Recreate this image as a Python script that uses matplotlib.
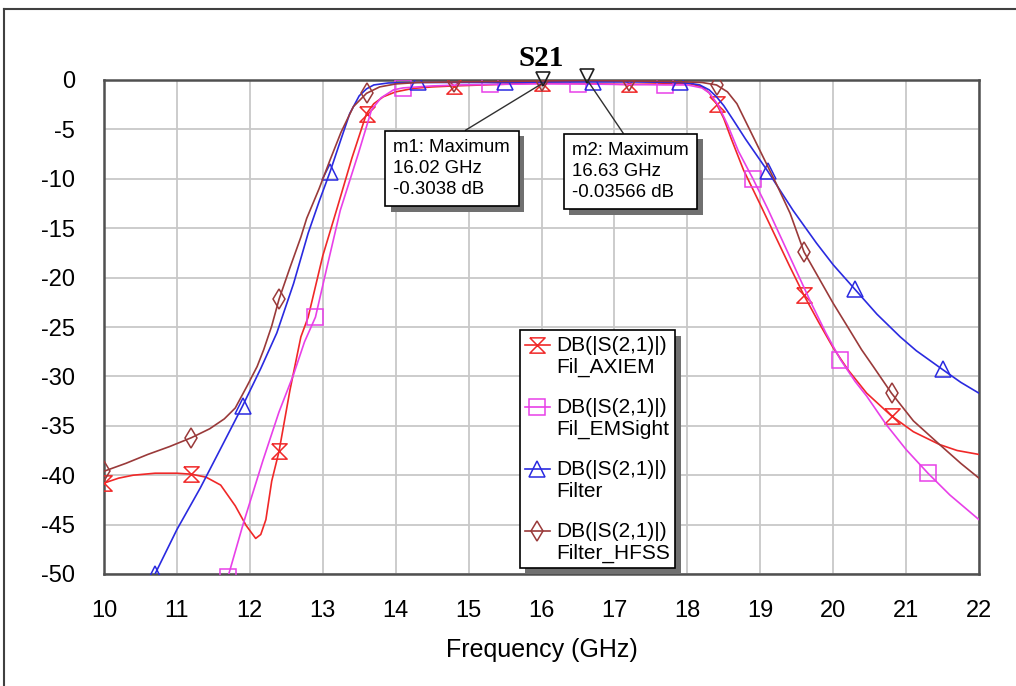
import numpy as np
import matplotlib
matplotlib.use("Agg")
import matplotlib.pyplot as plt
from matplotlib.lines import Line2D
from matplotlib import patheffects as pe
from matplotlib.legend_handler import HandlerLine2D

# ---------------- data ----------------
axiem_f = [10.0, 10.2, 10.4, 10.7, 11.0, 11.2, 11.4, 11.6, 11.8, 11.95, 12.08, 12.15, 12.22,
           12.3, 12.4, 12.55, 12.7, 12.8, 13.0, 13.2, 13.4, 13.6, 13.7, 13.83, 14.0, 14.24,
           14.5, 14.8, 15.2, 15.6, 16.0, 16.4, 16.8, 17.2, 17.6, 17.9, 18.05, 18.2, 18.3,
           18.4, 18.5, 18.6, 18.77, 19.0, 19.2, 19.4, 19.6, 19.8, 20.0, 20.2, 20.46, 20.8,
           21.1, 21.46, 21.7, 22.0]
axiem_db = [-40.8, -40.3, -40.0, -39.8, -39.8, -39.9, -40.2, -41.0, -43.1, -45.1, -46.4, -46.0, -44.5,
            -40.6, -37.6, -31.4, -26.0, -24.0, -17.8, -12.9, -7.9, -3.4, -2.4, -1.7, -1.2, -0.85,
            -0.7, -0.6, -0.5, -0.4, -0.3, -0.35, -0.4, -0.45, -0.4, -0.35, -0.4, -0.7, -1.3,
            -2.4, -3.9, -5.9, -9.1, -12.6, -15.7, -18.8, -21.8, -24.5, -27.1, -29.3, -31.7, -34.0,
            -35.6, -36.9, -37.5, -37.9]
axiem_mk = [10.0, 11.2, 12.4, 13.6, 14.8, 16.0, 17.2, 18.4, 19.6, 20.8]

ems_f = [11.6, 11.7, 11.91, 12.18, 12.4, 12.6, 12.75, 12.9, 13.05, 13.24, 13.49, 13.67, 13.8,
         13.97, 14.1, 14.5, 14.9, 15.3, 15.9, 16.5, 17.1, 17.7, 18.0, 18.2, 18.3, 18.42, 18.55,
         18.7, 18.9, 19.1, 19.3, 19.5, 19.7, 19.9, 20.1, 20.3, 20.46, 20.73, 21.0, 21.3, 21.6, 22.0]
ems_db = [-52.5, -50.3, -44.9, -38.5, -33.6, -29.8, -26.5, -24.0, -19.2, -13.2, -7.4, -3.0, -1.8,
          -1.0, -0.8, -0.6, -0.5, -0.45, -0.4, -0.4, -0.45, -0.5, -0.5, -0.8, -1.3, -2.5, -4.5,
          -7.2, -10.0, -13.0, -16.2, -19.4, -22.6, -25.6, -28.3, -30.5, -32.0, -34.9, -37.4, -39.8, -42.0, -44.5]
ems_mk = [11.7, 12.9, 14.1, 15.3, 16.5, 17.7, 18.9, 20.1, 21.3]

flt_f = [10.62, 10.7, 11.0, 11.32, 11.6, 11.9, 12.15, 12.37, 12.6, 12.8, 12.95, 13.1, 13.25,
         13.37, 13.5, 13.6, 13.7, 13.9, 14.3, 14.9, 15.5, 16.1, 16.7, 17.3, 17.9, 18.05, 18.17,
         18.3, 18.4, 18.5, 18.63, 18.8, 19.1, 19.45, 19.77, 20.0, 20.3, 20.6, 20.92, 21.14, 21.5,
         21.75, 22.0]
flt_db = [-51.5, -50.0, -45.5, -41.3, -37.3, -33.0, -29.2, -25.6, -20.6, -15.5, -12.3, -9.3, -6.0,
          -3.4, -1.6, -0.9, -0.5, -0.3, -0.25, -0.25, -0.25, -0.2, -0.2, -0.2, -0.25, -0.35, -0.5,
          -1.0, -1.7, -2.6, -4.05, -6.0, -9.2, -13.2, -16.5, -18.7, -21.2, -23.7, -26.0, -27.4, -29.3,
          -30.6, -31.7]
flt_mk = [10.7, 11.9, 13.1, 14.3, 15.5, 16.7, 17.9, 19.1, 20.3, 21.5]

hfss_f = [10.0, 10.3, 10.6, 10.9, 11.2, 11.45, 11.65, 11.8, 11.96, 12.1, 12.19, 12.3, 12.4,
          12.55, 12.7, 12.78, 12.95, 13.1, 13.25, 13.42, 13.6, 13.78, 14.0, 14.3, 14.8, 15.4,
          16.0, 16.63, 17.2, 17.8, 18.2, 18.4, 18.55, 18.68, 18.86, 19.04, 19.22, 19.41, 19.6,
          19.8, 20.0, 20.2, 20.39, 20.55, 20.8, 21.1, 21.46, 21.75, 22.0]
hfss_db = [-39.6, -38.8, -37.9, -37.1, -36.2, -35.3, -34.3, -33.2, -31.0, -29.0, -27.3, -24.9, -22.2,
           -19.0, -15.9, -14.0, -11.0, -8.1, -5.3, -2.7, -1.35, -0.7, -0.4, -0.25, -0.2, -0.15,
           -0.1, -0.04, -0.1, -0.15, -0.25, -0.5, -1.2, -2.4, -5.1, -7.8, -10.5, -13.5, -17.4,
           -20.0, -22.6, -25.0, -27.3, -29.0, -31.7, -34.5, -36.9, -38.8, -40.3]
hfss_mk = [10.0, 11.2, 12.4, 13.6, 14.8, 16.0, 17.2, 18.4, 19.6, 20.8]

series_labels = ["DB(|S(2,1)|)\nFil_AXIEM", "DB(|S(2,1)|)\nFil_EMSight",
                 "DB(|S(2,1)|)\nFilter", "DB(|S(2,1)|)\nFilter_HFSS"]
series_colors = ["#F02828", "#E840E8", "#2A2AE0", "#9A3A3A"]

m1_f, m1_db = 16.02, -0.3038
m2_f, m2_db = 16.63, -0.03566
xticks = list(range(10, 23))
yticks = list(range(0, -55, -5))

# ---------------- figure ----------------
plt.rcParams['font.family'] = ['Liberation Sans', 'DejaVu Sans']
plt.rcParams['axes.unicode_minus'] = False
fig = plt.figure(figsize=(10.16, 6.86), dpi=100)
fig.patch.set_facecolor('white')
ax = fig.add_axes([104/1016, 1-574/686, (979-104)/1016, (574-80)/686])

hourglass = [(-1, 1), (1, 1), (-1, -1), (1, -1), (-1, 1)]
markers = [hourglass, 's', '^', 'd']
msizes = [11, 12, 12, 10]
data = [(axiem_f, axiem_db, axiem_mk), (ems_f, ems_db, ems_mk),
        (flt_f, flt_db, flt_mk), (hfss_f, hfss_db, hfss_mk)]

for (f, db, mk), lab, col, m, ms in zip(data, series_labels, series_colors, markers, msizes):
    f = np.asarray(f); db = np.asarray(db)
    idx = [int(np.argmin(np.abs(f - v))) for v in mk]
    ax.plot(f, db, color=col, lw=1.2, marker=m, markevery=idx, ms=ms,
            mfc='none', mec=col, mew=1.1, label=lab, zorder=3)

ax.set_xlim(10, 22)
ax.set_ylim(-50, 0)
ax.set_xticks(xticks)
ax.set_yticks(yticks)
ax.grid(True, color='#c8c8c8', lw=1.3, zorder=0)
ax.set_axisbelow(True)
ax.tick_params(length=0, labelsize=17)
ax.tick_params(axis='y', pad=21)
ax.tick_params(axis='x', pad=19)
for s in ax.spines.values():
    s.set_color('#505050')
    s.set_linewidth(1.8)

ax.set_title("S21", fontfamily='Liberation Serif', fontweight='bold', fontsize=21, pad=10)
ax.set_xlabel("Frequency (GHz)", fontsize=18, labelpad=11)

# marker symbols
for mf, mdb in [(m1_f, m1_db), (m2_f, m2_db)]:
    ax.plot([mf], [mdb + 0.4], marker='v', ms=10, mfc='none', mec='#202020', mew=1.2,
            clip_on=False, zorder=5)

shadow = [pe.withSimplePatchShadow(offset=(4, -4), shadow_rgbFace='#707070', alpha=1.0)]
boxkw = dict(boxstyle='square,pad=0.45', fc='white', ec='black', lw=1.2)
t1 = ax.annotate("m1: Maximum\n16.02 GHz\n-0.3038 dB", xy=(m1_f, m1_db),
                 xytext=(13.97, -6.0), textcoords='data', ha='left', va='top', fontsize=13.4,
                 linespacing=1.3, bbox=boxkw,
                 arrowprops=dict(arrowstyle='-', color='#303030', lw=1.0,
                                 relpos=(0.49, 1.0), shrinkA=0, shrinkB=0), zorder=6)
t1.get_bbox_patch().set_path_effects(shadow)
t2 = ax.annotate("m2: Maximum\n16.63 GHz\n-0.03566 dB", xy=(m2_f, m2_db),
                 xytext=(16.42, -6.3), textcoords='data', ha='left', va='top', fontsize=13.4,
                 linespacing=1.3, bbox=boxkw,
                 arrowprops=dict(arrowstyle='-', color='#303030', lw=1.0,
                                 relpos=(0.49, 1.0), shrinkA=0, shrinkB=0), zorder=6)
t2.get_bbox_patch().set_path_effects(shadow)


class UpHandler(HandlerLine2D):
    def create_artists(self, legend, orig_handle, xdescent, ydescent, width, height,
                       fontsize, trans):
        arts = super().create_artists(legend, orig_handle, xdescent, ydescent, width,
                                      height, fontsize, trans)
        for a in arts:
            a.set_ydata(np.asarray(a.get_ydata(), dtype=float) + 0.53 * fontsize)
        return arts


leg = ax.legend(loc='lower left', bbox_to_anchor=(0.475, 0.012), fontsize=15,
                frameon=True, fancybox=False, shadow=False, edgecolor='black',
                framealpha=1, handlelength=1.2, handletextpad=0.3, labelspacing=1.0,
                borderpad=0.25, borderaxespad=0, handler_map={Line2D: UpHandler()})
leg.get_frame().set_linewidth(1.2)
leg.get_frame().set_path_effects(shadow)
leg.set_zorder(7)

# outer window frame
fig.add_artist(Line2D([4/1016, 1.0], [1-9/686, 1-9/686], color='#404040', lw=1.5))
fig.add_artist(Line2D([4/1016, 4/1016], [1-9/686, 0.0], color='#404040', lw=1.5))

fig.savefig("out.png", dpi=100)
